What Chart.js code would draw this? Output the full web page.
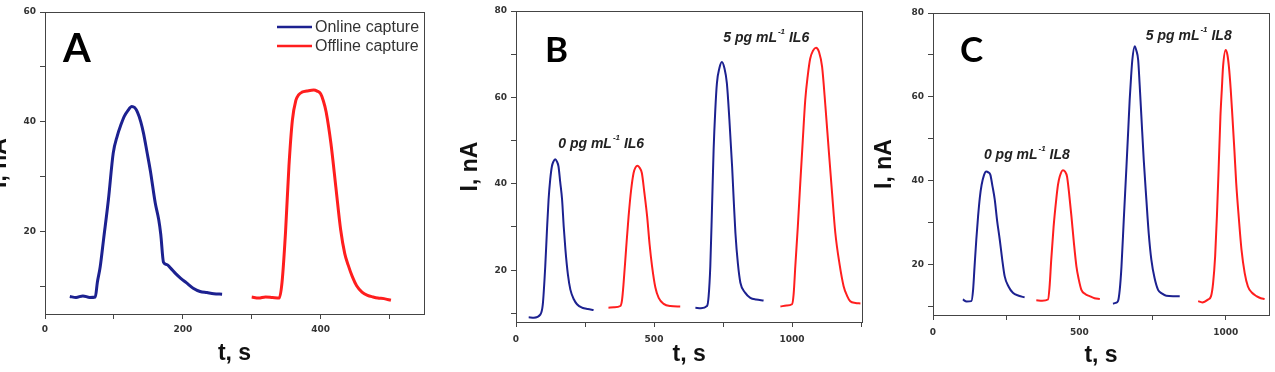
<!DOCTYPE html>
<html>
<head>
<meta charset="utf-8">
<script src="https://cdn.jsdelivr.net/npm/chart.js@4.4.0/dist/chart.umd.min.js"></script>
<style>
  body { margin: 0; background: #fff; width: 1275px; height: 372px; overflow: hidden; position: relative; }
  .panel { position: absolute; top: 0; height: 372px; }
</style>
</head>
<body>
<div class="panel" style="left:-30px;width:460px"><canvas id="chartA"></canvas></div>
<div class="panel" style="left:430px;width:438px"><canvas id="chartB"></canvas></div>
<div class="panel" style="left:862px;width:413px"><canvas id="chartC"></canvas></div>
<script>
// Panel A - online vs offline capture
const aOnlineT = [36, 45, 55, 65, 73, 76, 80, 85, 92, 99, 105, 110, 115, 120, 126, 130, 134, 139, 143, 148, 153, 160, 165, 168, 172, 177, 182, 190, 197, 205, 215, 225, 235, 245, 257];
const aOnlineI = [8.2, 8.0, 8.3, 8.0, 8.1, 10.8, 13.5, 18.6, 25.8, 34.3, 37.5, 39.4, 41, 42, 42.8, 42.6, 41.8, 40, 37.9, 34.5, 31, 25.2, 22.2, 19.5, 14.4, 14, 13.4, 12.3, 11.5, 10.7, 9.7, 9.1, 8.9, 8.7, 8.6];
const aOfflineT = [300, 310, 320, 330, 340, 344, 349, 354, 359, 364, 368, 373, 380, 390, 395, 400, 404, 408, 415, 422, 429, 435, 440, 446, 452, 460, 468, 476, 483, 492, 502];
const aOfflineI = [8.1, 7.9, 8.1, 8.0, 7.9, 10.8, 19.8, 31.9, 40.3, 43.9, 44.9, 45.4, 45.6, 45.8, 45.6, 45.1, 43.8, 41.8, 36, 28.2, 20.4, 16, 13.9, 11.8, 10.2, 9.0, 8.4, 8.1, 7.9, 7.8, 7.5];

// Panel B - IL6 peaks
const bBlue1T = [46, 65, 88, 97, 106, 112, 118, 124, 130, 136, 142, 148, 154, 160, 167, 173, 179, 188, 197, 210, 221, 240, 260, 281];
const bBlue1I = [9.1, 9.0, 9.7, 12, 20.9, 29, 36.3, 41, 44, 45.2, 45.7, 45.2, 44, 40.5, 36.3, 30, 24.8, 19, 15.5, 13.2, 12.1, 11.3, 11, 10.8];
const bRed1T = [335, 355, 378, 384, 390, 399, 408, 417, 426, 433, 441, 448, 456, 465, 475, 484, 493, 505, 517, 535, 559, 595];
const bRed1I = [11.3, 11.4, 11.7, 13, 17.1, 25, 32.5, 38.5, 42.5, 43.8, 44.2, 43.7, 42.5, 38, 32.5, 26, 20.9, 16, 13.6, 12.2, 11.7, 11.6];
const bBlue2T = [650, 670, 692, 698, 704, 710, 716, 722, 728, 737, 746, 755, 764, 773, 783, 789, 795, 804, 813, 830, 849, 870, 897];
const bBlue2I = [11.3, 11.2, 11.7, 14, 20.9, 34, 47.9, 57, 63.3, 66.8, 68.2, 66.8, 63.3, 55, 44, 36, 28.6, 21.5, 17.1, 14.8, 13.6, 13.2, 13];
const bRed2T = [958, 980, 1000, 1006, 1012, 1021, 1030, 1039, 1048, 1057, 1066, 1076, 1087, 1098, 1109, 1121, 1133, 1145, 1157, 1172, 1187, 1200, 1211, 1230, 1248];
const bRed2I = [11.6, 11.8, 12.1, 14.5, 20.9, 30, 40.2, 50, 59.4, 65, 69, 70.8, 71.5, 70.5, 67.1, 58, 47.9, 38, 28.6, 21.5, 16.3, 14, 12.8, 12.4, 12.3];

// Panel C - IL8 peaks
const cBlue1T = [102, 115, 131, 137, 142, 148, 154, 160, 166, 174, 182, 189, 196, 203, 211, 219, 228, 236, 245, 258, 273, 293, 313];
const cBlue1I = [11.7, 11.2, 11.3, 14, 19.6, 26, 31.5, 36, 39, 41.3, 42.2, 42, 41.4, 38.8, 35.5, 30.5, 26, 21.5, 17.2, 14.8, 13.3, 12.6, 12.2];
const cRed1T = [353, 373, 393, 398, 404, 412, 421, 427, 433, 444, 451, 458, 465, 473, 481, 490, 498, 507, 520, 535, 552, 570];
const cRed1I = [11.5, 11.4, 11.7, 14.5, 21.2, 29, 35.5, 39, 41, 42.5, 42.2, 41, 37, 31.5, 25.5, 19.6, 16.5, 14, 13, 12.5, 12, 11.8];
const cBlue2T = [615, 624, 632, 638, 644, 652, 661, 667, 672, 677, 681, 689, 695, 701, 706, 712, 720, 729, 737, 746, 757, 769, 783, 797, 820, 843];
const cBlue2I = [10.7, 10.9, 11.3, 14, 19.6, 31, 43.4, 52, 59.3, 65, 68.8, 72.1, 71, 68.8, 63, 55.3, 45, 35.5, 27.5, 21.2, 16.8, 14, 13.1, 12.6, 12.5, 12.5];
const cRed2T = [906, 920, 940, 950, 957, 964, 970, 976, 982, 987, 991, 1000, 1006, 1011, 1017, 1023, 1030, 1036, 1045, 1054, 1065, 1076, 1090, 1105, 1120, 1133];
const cRed2I = [11.3, 11, 11.7, 12.5, 15.6, 22, 31.5, 43, 55.3, 62, 67.2, 71.2, 70, 67.2, 62, 55.3, 47, 39.4, 31, 23.6, 18, 14.8, 13.3, 12.5, 12, 11.8];

const BLUE = '#1c2190';
const RED = '#ff1e1e';
const AXIS = '#444';
const TICK_FONT = { family: 'DejaVu Sans', size: 9, weight: 'bold' };
const TITLE_FONT = { family: 'Liberation Sans', size: 23, weight: 'bold' };

function pts(ts, vals) {
    return ts.map((t, i) => ({ x: t, y: vals[i] }));
}

// make ticks on every multiple of step inside the range
function stepTicks(scale, step) {
    const ticks = [];
    for (let v = Math.ceil(scale.min / step) * step; v <= scale.max; v += step) {
        ticks.push({ value: v });
    }
    scale.ticks = ticks;
}

// box round the plot area
const framePlugin = {
    id: 'frame',
    afterDraw(chart) {
        const a = chart.chartArea, ctx = chart.ctx;
        ctx.save();
        ctx.strokeStyle = AXIS;
        ctx.lineWidth = 1;
        ctx.strokeRect(Math.round(a.left) + 0.5, Math.round(a.top) + 0.5, Math.round(a.width), Math.round(a.height));
        ctx.restore();
    }
};

// panel letter, notes and the inside legend
const decoPlugin = {
    id: 'deco',
    afterDraw(chart, args, o) {
        const { ctx, chartArea: a, scales: { x, y } } = chart;
        ctx.save();
        ctx.fillStyle = '#000';
        ctx.textBaseline = 'alphabetic';
        ctx.font = `bold ${o.letterSize}px Lato`;
        ctx.fillText(o.letter, a.left + o.letterX, a.top + o.letterY);

        (o.notes || []).forEach(n => {
            let px = x.getPixelForValue(n.t);
            const py = y.getPixelForValue(n.i);
            ctx.fillStyle = '#222';
            ctx.textBaseline = 'middle';
            ctx.font = 'italic bold 14px "Liberation Sans"';
            ctx.fillText(n.head, px, py);
            px += ctx.measureText(n.head).width + 1;
            ctx.font = 'italic bold 8px "Liberation Sans"';
            ctx.fillText(n.sup, px, py - 6);
            px += ctx.measureText(n.sup).width;
            ctx.font = 'italic bold 14px "Liberation Sans"';
            ctx.fillText(n.tail, px, py);
        });

        if (o.legend) {
            chart.data.datasets.forEach((d, k) => {
                const ly = a.top + 15 + k * 19;
                ctx.strokeStyle = d.borderColor;
                ctx.lineWidth = 2.5;
                ctx.beginPath();
                ctx.moveTo(a.right - 147, ly);
                ctx.lineTo(a.right - 112, ly);
                ctx.stroke();
                ctx.fillStyle = '#333';
                ctx.textBaseline = 'middle';
                ctx.font = '16px "Liberation Sans"';
                ctx.fillText(d.label, a.right - 109, ly + 1);
            });
        }
        ctx.restore();
    }
};

function buildChart(id, p) {
    return new Chart(document.getElementById(id), {
        type: 'line',
        data: {
            datasets: p.series.map(s => ({
                label: s.label,
                data: pts(s.t, s.i),
                borderColor: s.color,
                borderWidth: p.lineWidth,
                pointRadius: 0,
                cubicInterpolationMode: 'monotone',
                fill: false
            }))
        },
        options: {
            responsive: true,
            maintainAspectRatio: false,
            animation: false,
            layout: { padding: { left: 0, right: p.padRight, top: p.padTop, bottom: 0 } },
            plugins: {
                legend: { display: false },
                tooltip: { enabled: false },
                deco: p.deco
            },
            scales: {
                x: {
                    type: 'linear',
                    min: p.xMin,
                    max: p.xMax,
                    afterBuildTicks: s => stepTicks(s, p.xStep),
                    afterFit: s => { s.height = p.xHeight; },
                    ticks: {
                        autoSkip: false,
                        maxRotation: 0,
                        padding: p.xTickPad,
                        color: '#333',
                        font: TICK_FONT,
                        callback: v => (v % p.xLabelStep === 0 ? v : '')
                    },
                    grid: { drawOnChartArea: false, tickLength: 5, color: AXIS },
                    border: { color: AXIS },
                    title: {
                        display: true,
                        text: 't, s',
                        color: '#111',
                        font: TITLE_FONT,
                        padding: { top: 0, bottom: p.xTitlePad }
                    }
                },
                y: {
                    min: p.yMin,
                    max: p.yMax,
                    afterBuildTicks: s => stepTicks(s, 10),
                    afterFit: s => { s.width = p.yWidth; },
                    ticks: {
                        autoSkip: false,
                        padding: 4,
                        color: '#333',
                        font: TICK_FONT,
                        callback: v => (v % 20 === 0 ? v : '')
                    },
                    grid: { drawOnChartArea: false, tickLength: 5, color: AXIS },
                    border: { color: AXIS },
                    title: {
                        display: true,
                        text: 'I, nA',
                        color: '#111',
                        font: TITLE_FONT,
                        padding: { top: p.yTitlePad, bottom: 0 }
                    }
                }
            }
        },
        plugins: [framePlugin, decoPlugin]
    });
}

buildChart('chartA', {
    series: [
        { label: 'Online capture', t: aOnlineT, i: aOnlineI, color: BLUE },
        { label: 'Offline capture', t: aOfflineT, i: aOfflineI, color: RED }
    ],
    lineWidth: 3,
    xMin: 0, xMax: 550, xStep: 100, xLabelStep: 200,
    yMin: 5, yMax: 60,
    padTop: 12, padRight: 6,
    yWidth: 75, xHeight: 58,
    xTickPad: 5, xTitlePad: 5, yTitlePad: 16,
    deco: { letter: 'A', letterSize: 40, letterX: 18, letterY: 50, legend: true }
});

buildChart('chartB', {
    series: [
        { label: 'blue 1', t: bBlue1T, i: bBlue1I, color: BLUE },
        { label: 'red 1', t: bRed1T, i: bRed1I, color: RED },
        { label: 'blue 2', t: bBlue2T, i: bBlue2I, color: BLUE },
        { label: 'red 2', t: bRed2T, i: bRed2I, color: RED }
    ],
    lineWidth: 2,
    xMin: 0, xMax: 1255, xStep: 250, xLabelStep: 500,
    yMin: 8, yMax: 80,
    padTop: 11, padRight: 0,
    yWidth: 86, xHeight: 50,
    xTickPad: 7, xTitlePad: 4, yTitlePad: 27,
    deco: {
        letter: 'B', letterSize: 35, letterX: 29, letterY: 51,
        notes: [
            { t: 153, i: 49.2, head: '0 pg mL', sup: '-1', tail: ' IL6' },
            { t: 751, i: 73.7, head: '5 pg mL', sup: '-1', tail: ' IL6' }
        ]
    }
});

buildChart('chartC', {
    series: [
        { label: 'blue 1', t: cBlue1T, i: cBlue1I, color: BLUE },
        { label: 'red 1', t: cRed1T, i: cRed1I, color: RED },
        { label: 'blue 2', t: cBlue2T, i: cBlue2I, color: BLUE },
        { label: 'red 2', t: cRed2T, i: cRed2I, color: RED }
    ],
    lineWidth: 2,
    xMin: 0, xMax: 1148, xStep: 250, xLabelStep: 500,
    yMin: 8, yMax: 80,
    padTop: 13, padRight: 6,
    yWidth: 71, xHeight: 57,
    xTickPad: 7, xTitlePad: 3, yTitlePad: 9,
    deco: {
        letter: 'C', letterSize: 35, letterX: 27, letterY: 49,
        notes: [
            { t: 174, i: 46.2, head: '0 pg mL', sup: '-1', tail: ' IL8' },
            { t: 727, i: 74.5, head: '5 pg mL', sup: '-1', tail: ' IL8' }
        ]
    }
});
</script>
</body>
</html>
